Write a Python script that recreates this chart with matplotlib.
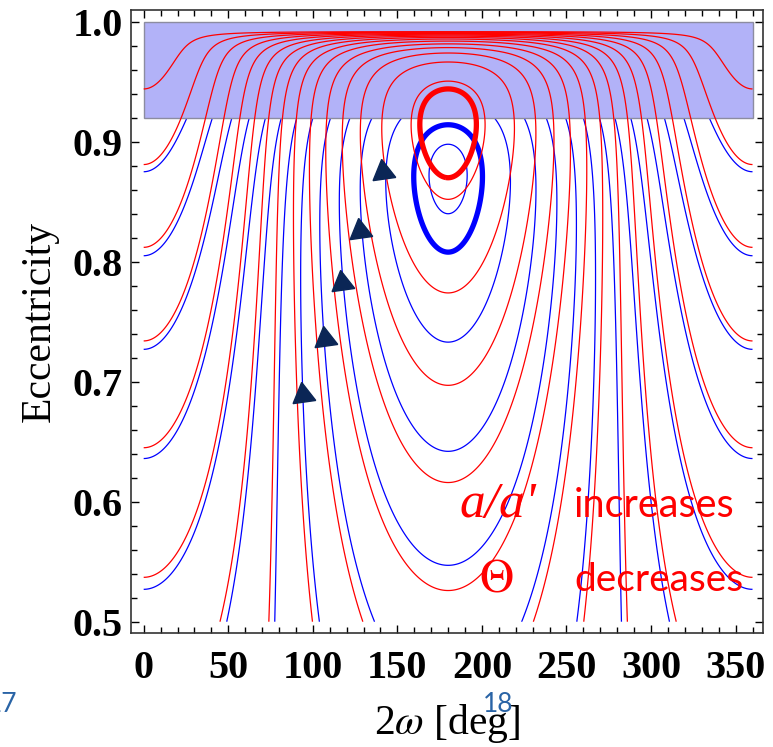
import numpy as np
import matplotlib.pyplot as plt
from matplotlib.patches import Rectangle
from matplotlib.ticker import MultipleLocator

plt.rcParams['font.family'] = 'Liberation Serif'
plt.rcParams['mathtext.fontset'] = 'stix'
plt.rcParams['contour.negative_linestyle'] = 'solid'

# conserved Theta of each family
theta_blue = 0.185
theta_red = 0.126

# points (2w [deg], e), one per drawn curve
blue_left_e = [0.527, 0.636, 0.727, 0.805, 0.875]      # at 2w = 0
blue_bottom_w = [49.1, 77.5, 103.9, 136.5]             # at e = 0.5
blue_mid_e = [0.547, 0.642, 0.733, 0.840]              # at 2w = 180
blue_thick_e = 0.808

red_left_e = [0.537, 0.645, 0.734, 0.812, 0.881, 0.944]
red_bottom_w = [45.1, 74.0, 99.8, 129.6]
red_mid_e = [0.526, 0.616, 0.697, 0.774, 0.852]
red_thick_e = 0.870

# direction arrows
arrow_w = [94.4, 107.4, 117.2, 128.0, 141.8]
arrow_e = [0.689, 0.736, 0.782, 0.826, 0.875]

band_lo, band_hi = 0.92, 1.0


def kozai(w2, e, theta):
    # quadrupole Kozai Hamiltonian at fixed Theta = sqrt(1-e^2) cos i
    c2 = theta**2 / (1 - e**2)
    h = (2 + 3*e**2) * (3*c2 - 1) + 15*e**2 * (1 - c2) * np.cos(np.radians(w2))
    return np.where(c2 <= 1, h, np.nan)


def levels(theta, left_e, bottom_w, mid_e):
    pts = [(0, e) for e in left_e] + [(w, 0.5) for w in bottom_w] + [(180, e) for e in mid_e]
    return sorted(float(kozai(w, e, theta)) for w, e in pts)


ww = np.linspace(0, 360, 721)
ee = np.linspace(0.5, 0.99999, 1500)
WW, EE = np.meshgrid(ww, ee)

fig = plt.figure(figsize=(7.73, 7.47), dpi=100)
ax = fig.add_axes([131/773, 1 - 633/747, 632/773, 623.5/747])

Hb = kozai(WW, EE, theta_blue)
ax.contour(WW, EE, Hb, levels=levels(theta_blue, blue_left_e, blue_bottom_w, blue_mid_e),
           colors='#0000ff', linewidths=0.9, linestyles='solid', zorder=1)
ax.contour(WW, EE, Hb, levels=[float(kozai(180, blue_thick_e, theta_blue))],
           colors='#0000ff', linewidths=3.8, linestyles='solid', zorder=1)

ax.add_patch(Rectangle((0, band_lo), 360, band_hi - band_lo, facecolor='#b2b2f8',
                       edgecolor='#8c8ca0', lw=1, zorder=2))

Hr = kozai(WW, EE, theta_red)
ax.contour(WW, EE, Hr, levels=levels(theta_red, red_left_e, red_bottom_w, red_mid_e),
           colors='#ff0000', linewidths=0.9, linestyles='solid', zorder=3)
ax.contour(WW, EE, Hr, levels=[float(kozai(180, red_thick_e, theta_red))],
           colors='#ff0000', linewidths=3.8, linestyles='solid', zorder=3)

ax.plot(arrow_w, arrow_e, ls='none', marker=(3, 0, 8), ms=19, color='#0b2656', zorder=4)

ax.text(186.5, 0.587, "a/a'", color='red', fontsize=37, style='italic', zorder=5)
ax.text(254.5, 0.587, 'increases', color='red', fontsize=28.5, family='Lato', zorder=5)
ax.text(198.5, 0.525, r'$\Theta$', color='red', fontsize=34, zorder=5)
ax.text(254.5, 0.526, 'decreases', color='red', fontsize=28, family='Lato', zorder=5)

ax.set_xlim(-7.5, 366.2)
ax.set_ylim(0.4906, 1.0102)
ax.xaxis.set_major_locator(MultipleLocator(50))
ax.xaxis.set_minor_locator(MultipleLocator(10))
ax.yaxis.set_major_locator(MultipleLocator(0.1))
ax.yaxis.set_minor_locator(MultipleLocator(0.02))
ax.yaxis.set_major_formatter(lambda v, p: f'{v:.1f}')
ax.tick_params(which='both', direction='in', top=True, right=True, width=1, labelsize=29)
ax.tick_params(which='major', length=5.5)
ax.tick_params(which='minor', length=4)
ax.tick_params(axis='x', pad=12)
ax.tick_params(axis='y', pad=6)
for lab in ax.get_xticklabels() + ax.get_yticklabels():
    lab.set_fontweight('bold')
for s in ax.spines.values():
    s.set_linewidth(1.2)
    s.set_color('#333333')

ax.set_xlabel(r'2$\omega$ [deg]', fontsize=30, labelpad=11)
ax.set_ylabel('Eccentricity', fontsize=30, labelpad=10)

fig.text(17/773, 1 - 712/747, '17', ha='right', color='#2a64a6', family='Lato', fontsize=19)
fig.text(483/773, 1 - 712/747, '18', color='#2a64a6', family='Lato', fontsize=19, zorder=10)

fig.savefig('out.png', dpi=100)
